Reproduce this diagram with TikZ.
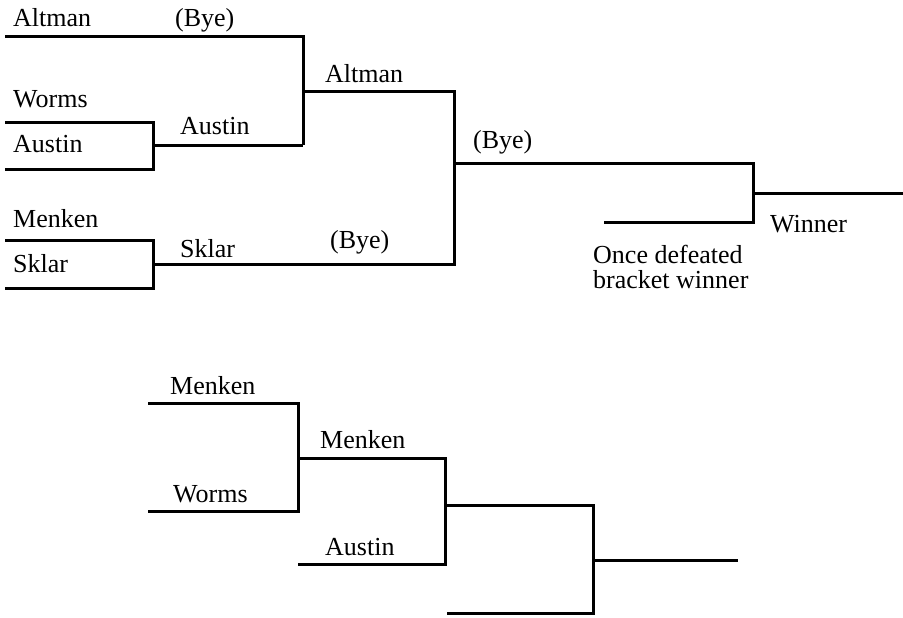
\documentclass[tikz,border=0pt]{standalone}
\usepackage{fontspec}
\setmainfont{Liberation Serif}
\begin{document}
\begin{tikzpicture}[x=1pt,y=-1pt,
  lbl/.style={anchor=base west,inner sep=0pt,font=\fontsize{26}{30}\selectfont},
  brk/.style={line width=3pt,line join=miter}]
\useasboundingbox (0,0) rectangle (903,618);
% coordinates, top bracket
\coordinate (a0) at (5,37);   \coordinate (a1) at (303,37);  \coordinate (a2) at (303,145);
\coordinate (w0) at (5,122);  \coordinate (w1) at (153,122); \coordinate (w2) at (153,169); \coordinate (w3) at (5,169);
\coordinate (wm) at (153,145);
\coordinate (r0) at (303,92); \coordinate (r1) at (454,92);  \coordinate (r2) at (454,264); \coordinate (r3) at (153,264);
\coordinate (m0) at (5,240);  \coordinate (m1) at (153,240); \coordinate (m2) at (153,288); \coordinate (m3) at (5,288);
\coordinate (f0) at (454,163);\coordinate (f1) at (753,163); \coordinate (f2) at (753,222); \coordinate (f3) at (604,222);
\coordinate (g0) at (753,193);\coordinate (g1) at (903,193);
% bottom bracket
\coordinate (b0) at (148,403);\coordinate (b1) at (298,403); \coordinate (b2) at (298,511); \coordinate (b3) at (148,511);
\coordinate (c0) at (298,458);\coordinate (c1) at (445,458); \coordinate (c2) at (445,564); \coordinate (c3) at (298,564);
\coordinate (d0) at (445,505);\coordinate (d1) at (593,505); \coordinate (d2) at (593,613); \coordinate (d3) at (447,613);
\coordinate (e0) at (593,560);\coordinate (e1) at (738,560);
% lines
\draw[brk] (a0) -- (a1) -- (a2);
\draw[brk] (w0) -- (w1) -- (w2) -- (w3);
\draw[brk] (wm) -- (a2);
\draw[brk] (r0) -- (r1) -- (r2) -- (r3);
\draw[brk] (m0) -- (m1) -- (m2) -- (m3);
\draw[brk] (f0) -- (f1) -- (f2) -- (f3);
\draw[brk] (g0) -- (g1);
\draw[brk] (b0) -- (b1) -- (b2) -- (b3);
\draw[brk] (c0) -- (c1) -- (c2) -- (c3);
\draw[brk] (d0) -- (d1) -- (d2) -- (d3);
\draw[brk] (e0) -- (e1);
% labels
\node[lbl] (t1) at (13,27) {Altman};
\node[lbl] (t2) at (175,27) {(Bye)};
\node[lbl] (t3) at (13,107) {Worms};
\node[lbl] (t4) at (13,153) {Austin};
\node[lbl] (t5) at (180,135) {Austin};
\node[lbl] (t6) at (13,227) {Menken};
\node[lbl] (t7) at (13,272) {Sklar};
\node[lbl] (t8) at (180,257) {Sklar};
\node[lbl] (t9) at (325,82) {Altman};
\node[lbl] (t10) at (473,148) {(Bye)};
\node[lbl] (t11) at (330,248) {(Bye)};
\node[lbl] (t12) at (770,232) {Winner};
\node[lbl] (t13) at (593,263) {Once defeated};
\node[lbl] (t14) at (593,288) {bracket winner};
\node[lbl] (t15) at (170,394) {Menken};
\node[lbl] (t16) at (320,448) {Menken};
\node[lbl] (t17) at (173,502) {Worms};
\node[lbl] (t18) at (325,555) {Austin};
\end{tikzpicture}
\end{document}
